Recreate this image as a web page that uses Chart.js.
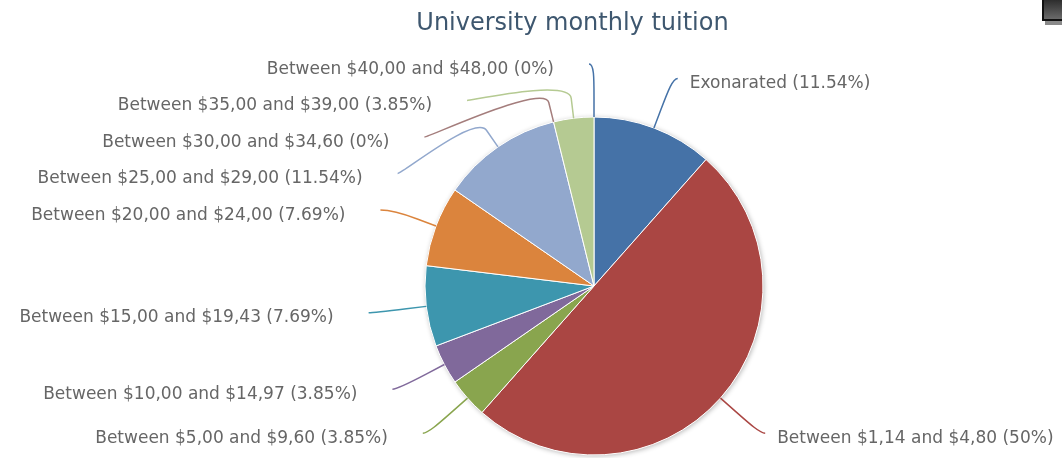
<!DOCTYPE html>
<html>
<head>
<meta charset="utf-8">
<title>University monthly tuition</title>
<script src="https://cdn.jsdelivr.net/npm/chart.js@4.4.1/dist/chart.umd.min.js"></script>
<style>
  html, body { margin: 0; padding: 0; background: #fff; }
  #wrap { position: relative; width: 1062px; height: 458px; overflow: hidden; }
  #tuitionChart { position: absolute; left: 0; top: 0; }
  #title {
    position: absolute; left: 0; top: 8px; width: 1145px;
    text-align: center; font: 24px/28px "DejaVu Sans", sans-serif; color: #3E576F;
  }
  #exportBtn {
    position: absolute; left: 1042px; top: -3px; width: 26px; height: 20px;
    border: 2px solid #111; background: linear-gradient(to bottom, #2a2a2a, #6a6a6a);
    box-shadow: 3px 4px 0 #8a8a8a;
  }
</style>
</head>
<body>
<div id="wrap">
  <canvas id="tuitionChart" width="1062" height="458"></canvas>
  <div id="title">University monthly tuition</div>
  <div id="exportBtn"></div>
</div>
<script>
// categories and number of students in each tuition range
const categories = [
  'Exonarated',
  'Between $1,14 and $4,80',
  'Between $5,00 and $9,60',
  'Between $10,00 and $14,97',
  'Between $15,00 and $19,43',
  'Between $20,00 and $24,00',
  'Between $25,00 and $29,00',
  'Between $30,00 and $34,60',
  'Between $35,00 and $39,00',
  'Between $40,00 and $48,00'
];
const students = [3, 13, 1, 1, 2, 2, 3, 0, 1, 0];

const sliceColors = [
  '#4572A7', '#AA4643', '#89A54E', '#80699B', '#3D96AE',
  '#DB843D', '#92A8CD', '#A47D7C', '#B5CA92', '#4572A7'
];

const total = students.reduce((a, b) => a + b, 0);

function labelText(i) {
  const pct = Math.round(students[i] / total * 10000) / 100;
  return `${categories[i]} (${pct}%)`;
}

// Highcharts-like outside labels with soft connectors
const pieLabels = {
  id: 'pieLabels',
  beforeDatasetsDraw(chart) {
    // soft shadow under the whole pie
    const arc = chart.getDatasetMeta(0).data[0];
    const { x, y, outerRadius } = arc.getProps(['x', 'y', 'outerRadius'], true);
    const ctx = chart.ctx;
    ctx.save();
    ctx.shadowColor = 'rgba(0, 0, 0, 0.3)';
    ctx.shadowBlur = 5;
    ctx.shadowOffsetX = 1;
    ctx.shadowOffsetY = 1;
    ctx.beginPath();
    ctx.arc(x, y, outerRadius, 0, Math.PI * 2);
    ctx.fillStyle = '#fff';
    ctx.fill();
    ctx.restore();
  },
  afterDatasetsDraw(chart, args, opts) {
    const ctx = chart.ctx;
    const meta = chart.getDatasetMeta(0);

    const items = meta.data.map((arc, i) => {
      const p = arc.getProps(['x', 'y', 'startAngle', 'endAngle', 'outerRadius'], true);
      const mid = (p.startAngle + p.endAngle) / 2;
      const R = p.outerRadius + opts.distance;
      return {
        i, mid, cx: p.x, cy: p.y, r: p.outerRadius, R,
        left: mid > Math.PI / 2,
        y: p.y + Math.sin(mid) * R
      };
    });

    // spread labels on each side so they don't overlap
    [true, false].forEach(side => {
      const list = items.filter(it => it.left === side).sort((a, b) => a.y - b.y);
      for (let k = 1; k < list.length; k++) {
        list[k].y = Math.max(list[k].y, list[k - 1].y + opts.spacing);
      }
      const maxY = chart.height - 8;
      for (let k = list.length - 1; k >= 0; k--) {
        const limit = k === list.length - 1 ? maxY : list[k + 1].y - opts.spacing;
        list[k].y = Math.min(list[k].y, limit);
      }
    });

    ctx.save();
    ctx.font = opts.font;
    ctx.lineWidth = 1.5;
    items.forEach(it => {
      const dir = it.left ? -1 : 1;
      const dy = it.y - it.cy;
      const x = it.cx + dir * Math.sqrt(Math.max(it.R * it.R - dy * dy, 0));
      const y = it.y;
      const cos = Math.cos(it.mid), sin = Math.sin(it.mid);
      const edgeX = it.cx + cos * it.r, edgeY = it.cy + sin * it.r;
      const brkX = it.cx + cos * (it.r + opts.connectorOffset);
      const brkY = it.cy + sin * (it.r + opts.connectorOffset);
      const startX = x + dir * opts.connectorPadding;

      ctx.strokeStyle = sliceColors[it.i];
      ctx.beginPath();
      ctx.moveTo(startX, y);
      ctx.bezierCurveTo(x, y, 2 * brkX - edgeX, 2 * brkY - edgeY, brkX, brkY);
      ctx.lineTo(edgeX, edgeY);
      ctx.stroke();

      ctx.fillStyle = opts.color;
      ctx.textAlign = it.left ? 'right' : 'left';
      ctx.textBaseline = 'alphabetic';
      const tx = startX + (it.left ? -opts.textGapLeft : opts.textGapRight);
      ctx.fillText(labelText(it.i), tx, y + opts.baselineShift);
    });
    ctx.restore();
  }
};

const config = {
  type: 'pie',
  data: {
    labels: categories,
    datasets: [{
      data: students,
      backgroundColor: sliceColors,
      borderColor: '#ffffff',
      borderWidth: 1,
      radius: 169
    }]
  },
  options: {
    responsive: false,
    devicePixelRatio: 1,
    animation: false,
    events: [],
    layout: {
      padding: { top: 117, bottom: 3, left: 226, right: 100 }
    },
    plugins: {
      legend: { display: false },
      tooltip: { enabled: false },
      pieLabels: {
        distance: 53,
        connectorOffset: 20,
        connectorPadding: 5,
        spacing: 36.5,
        textGapLeft: 35,
        textGapRight: 12,
        baselineShift: 9.5,
        font: '17px "DejaVu Sans"',
        color: '#666666'
      }
    }
  },
  plugins: [pieLabels]
};

new Chart(document.getElementById('tuitionChart'), config);
</script>
</body>
</html>
